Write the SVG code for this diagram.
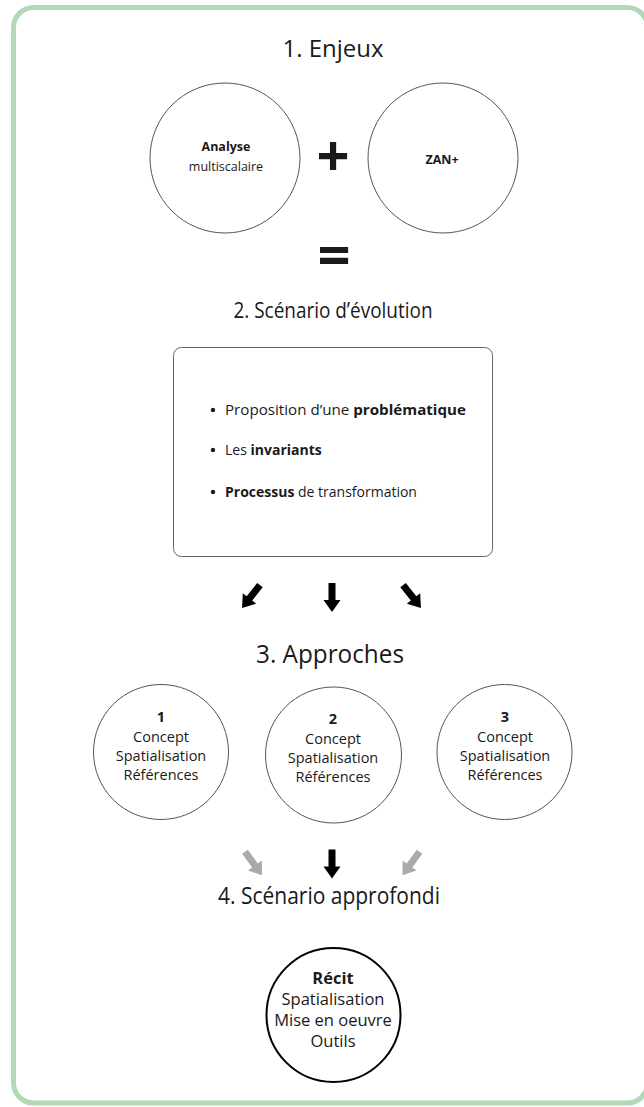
<svg xmlns="http://www.w3.org/2000/svg" width="644" height="1107" viewBox="0 0 644 1107">
<style>
text{font-family:"Open Sans","Noto Sans","Liberation Sans",sans-serif;fill:#1a1a1a;text-anchor:middle}
.title{font-size:21px}
.b{font-weight:700}
.thin{fill:#fff;stroke:#555;stroke-width:1}
.c3 text{font-size:14.5px}
.bl text{font-size:14px;text-anchor:start}
</style>
<defs>
<path id="arr" d="M-3.5,-14.5 H3.5 V2.5 H8.5 L0,14.5 L-8.5,2.5 H-3.5 Z"/>
</defs>
<rect x="13.5" y="7.5" width="634" height="1095.5" rx="20" fill="#fff" stroke="#b3d8b5" stroke-width="5"/>

<text x="333" y="57" style="font-size:23px" textLength="101" lengthAdjust="spacingAndGlyphs">1. Enjeux</text>

<g id="n-analyse">
<circle class="thin" cx="225" cy="158" r="75"/>
<text x="226" y="151" font-size="12.5" class="b">Analyse</text>
<text x="226" y="171" font-size="12.5">multiscalaire</text>
</g>
<text x="333" y="176" font-size="58" class="b">+</text>
<g id="n-zan">
<circle class="thin" cx="443" cy="158" r="75"/>
<text x="442" y="164" font-size="12.5" class="b">ZAN+</text>
</g>
<text x="334" y="276" font-size="58" class="b">=</text>

<text class="title" x="333" y="318" style="font-size:21.5px" textLength="199" lengthAdjust="spacingAndGlyphs">2. Scénario d’évolution</text>

<g id="n-scenario">
<rect x="173.5" y="347.5" width="319" height="209" rx="8" fill="#fff" stroke="#666" stroke-width="1"/>
<g class="bl">
<circle cx="213" cy="410" r="2.2" fill="#1a1a1a"/>
<text x="225" y="415" textLength="241" lengthAdjust="spacingAndGlyphs">Proposition d’une <tspan class="b">problématique</tspan></text>
<circle cx="213" cy="450" r="2.2" fill="#1a1a1a"/>
<text x="225" y="455">Les <tspan class="b">invariants</tspan></text>
<circle cx="213" cy="492" r="2.2" fill="#1a1a1a"/>
<text x="225" y="497"><tspan class="b">Processus</tspan> de transformation</text>
</g>
</g>

<g id="connectors">
<use href="#arr" transform="translate(251,596.5) rotate(38)" fill="#000"/>
<use href="#arr" transform="translate(332,597.5)" fill="#000"/>
<use href="#arr" transform="translate(412,596.5) rotate(-38)" fill="#000"/>
<use href="#arr" transform="translate(253.5,863.5) rotate(-36)" fill="#aaa"/>
<use href="#arr" transform="translate(332,864)" fill="#000"/>
<use href="#arr" transform="translate(411,863.5) rotate(36)" fill="#aaa"/>
</g>

<text x="330" y="663" style="font-size:25px" textLength="148" lengthAdjust="spacingAndGlyphs">3. Approches</text>

<g id="n-approche1" class="c3">
<circle class="thin" cx="161" cy="752" r="67.5"/>
<text x="161" y="722" class="b">1</text>
<text x="161" y="742">Concept</text>
<text x="161" y="761">Spatialisation</text>
<text x="161" y="780">Références</text>
</g>
<g id="n-approche2" class="c3">
<circle class="thin" cx="333.5" cy="755" r="68"/>
<text x="333" y="724" class="b">2</text>
<text x="333" y="744">Concept</text>
<text x="333" y="763">Spatialisation</text>
<text x="333" y="782">Références</text>
</g>
<g id="n-approche3" class="c3">
<circle class="thin" cx="504.5" cy="752" r="67.5"/>
<text x="505" y="722" class="b">3</text>
<text x="505" y="742">Concept</text>
<text x="505" y="761">Spatialisation</text>
<text x="505" y="780">Références</text>
</g>

<text x="329" y="904" style="font-size:23px" textLength="222" lengthAdjust="spacingAndGlyphs">4. Scénario approfondi</text>

<g id="n-recit">
<circle cx="333.5" cy="1015" r="67" fill="#fff" stroke="#000" stroke-width="2"/>
<text x="333" y="984" font-size="16.5" class="b">Récit</text>
<text x="333" y="1005" font-size="16.5">Spatialisation</text>
<text x="333" y="1026" font-size="16.5">Mise en oeuvre</text>
<text x="333" y="1047" font-size="16.5">Outils</text>
</g>
</svg>
